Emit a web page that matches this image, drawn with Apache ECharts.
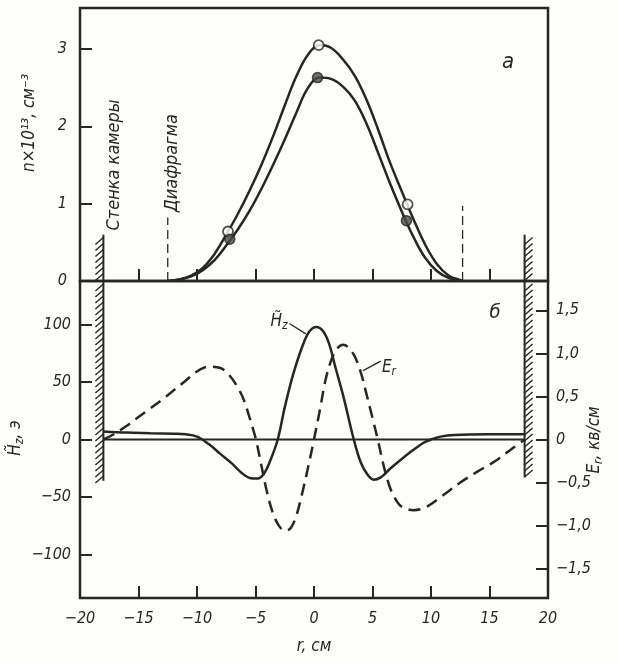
<!DOCTYPE html>
<html>
<head>
<meta charset="utf-8">
<script src="https://cdn.jsdelivr.net/npm/echarts@6/dist/echarts.min.js"></script>
<style>
  html, body { margin:0; padding:0; background:#fdfdf9; }
  #chart { width:618px; height:663px; }
</style>
</head>
<body>
<div id="chart"></div>
<script>
// ---------- data ----------
// panel a: electron density n, 10^13 cm^-3
const rN = [-12.5,-11.5,-10.5,-9.5,-8.5,-7.5,-6.5,-5.5,-4.5,-3.5,-2.5,-1.5,-0.5,0.5,1.5,2.5,3.5,4.5,5.5,6.5,7.5,8.5,9.5,10.5,11.5,12.5,12.7];
const nA = [0,0.02,0.07,0.17,0.35,0.6,0.87,1.17,1.5,1.87,2.27,2.65,2.93,3.05,3.01,2.86,2.65,2.34,1.95,1.53,1.16,0.8,0.47,0.22,0.07,0.01,0];
const nB = [0,0.02,0.06,0.14,0.27,0.46,0.67,0.91,1.19,1.5,1.83,2.18,2.5,2.63,2.61,2.51,2.33,2.03,1.65,1.26,0.9,0.57,0.3,0.13,0.04,0.005,0];
const ptsA = [[-7.35,0.64],[0.4,3.05],[8.0,0.99]];   // open circles
const ptsB = [[-7.2,0.54],[0.3,2.63],[7.9,0.78]];    // filled circles
const diaLeft = [[-12.5,0],[-12.5,0.82]];
const diaRight = [[12.7,0],[12.7,0.97]];

// panel б: H_z (oersted) and E_r (kV/cm)
const rH = [-18,-16,-14,-12,-11,-10,-9,-8,-7,-6.2,-5.5,-4.8,-4.3,-3.8,-3.1,-2.5,-1.8,-1.0,-0.4,0.2,0.8,1.3,1.8,2.5,3.4,4.0,4.6,5.1,5.7,6.5,7.5,8.5,9.4,10,10.8,12,15,18];
const hz = [7,6,5.5,5,4.5,2.5,-4,-12.5,-21,-29,-33.5,-34,-30,-20,0,28,56,81,94,98,94,83,64,38,0,-20,-31,-35,-33,-25.5,-17,-9,-2.6,0,2.5,4,4.5,4.5];
const rE = [-18,-17,-16,-15,-14,-13,-12,-11,-10,-9,-8,-7.2,-6.5,-6,-5.5,-5,-4.5,-4,-3.5,-3,-2.5,-2,-1.5,-1,-0.5,0,0.5,1,1.5,2,2.5,3,3.5,4,4.5,5,5.45,6,6.5,7,7.5,8.5,9.5,11,12.5,14,15.5,17,18];
const er = [0,0.07,0.16,0.26,0.36,0.46,0.57,0.68,0.79,0.845,0.83,0.74,0.6,0.46,0.25,0.02,-0.3,-0.62,-0.86,-1.0,-1.06,-1.03,-0.88,-0.62,-0.32,0,0.34,0.7,0.93,1.06,1.1,1.06,0.96,0.78,0.52,0.25,0,-0.33,-0.56,-0.7,-0.78,-0.82,-0.79,-0.65,-0.5,-0.37,-0.25,-0.1,0];
const zeroLine = [[-18,0],[18,0]];
const hzLeader = [[-2.1,101],[-0.7,92]];
const erLeader = [[4.2,0.8],[5.7,0.91]];

// walls: [r, yFrom, yTo] in each panel
const wallsTop = [[-18,0,0.6],[18,0,0.6]];
const wallsBottom = [[-18,-36,138],[18,-33,138]];

// ticks
const xTicks = [-15,-10,-5,0,5,10,15];
const xLabels = [-20,-15,-10,-5,0,5,10,15,20];
const nLabels = [0,1,2,3];
const hzLabels = [-100,-50,0,50,100];
const erLabels = [-1.5,-1,-0.5,0,0.5,1,1.5];

// ---------- helpers ----------
const INK = '#262626';
const FONT = '"DejaVu Sans Condensed", "DejaVu Sans", sans-serif';
const zip = (a, b) => a.map((v, i) => [v, b[i]]);
const minus = s => String(s).replace('-', '\u2212');
const comma = v => v === 0 ? '0' : minus(v.toFixed(1).replace('.', ','));
const lbl = { color: INK, fontFamily: FONT, fontStyle: 'italic', fontSize: 16 };
const txt = { fill: INK, fontFamily: FONT, fontStyle: 'italic', fontSize: 17 };

function wallItem(side){
  return function(params, api){
    const a = api.coord([api.value(0), api.value(2)]);
    const b = api.coord([api.value(0), api.value(1)]);
    const kids = [{ type:'line', shape:{ x1:a[0], y1:a[1], x2:b[0], y2:b[1] }, style:{ stroke:INK, lineWidth:2 } }];
    const dx = side < 0 ? -8 : 8;
    for(let y = a[1] + 3; y < b[1] - 2; y += 6){
      if(side < 0) kids.push({ type:'line', shape:{ x1:a[0], y1:y, x2:a[0]+dx, y2:y+7 }, style:{ stroke:INK, lineWidth:1.4 } });
      else kids.push({ type:'line', shape:{ x1:a[0], y1:y+7, x2:a[0]+dx, y2:y }, style:{ stroke:INK, lineWidth:1.4 } });
    }
    return { type:'group', children:kids };
  };
}

const chart = echarts.init(document.getElementById('chart'), null, { renderer:'canvas' });

const gridStyle = { show:true, borderColor:INK, borderWidth:2.5, backgroundColor:'transparent', outerBoundsMode:'none', containLabel:false };
const tick = (vals) => ({ show:true, inside:true, length:12, customValues:vals, lineStyle:{ color:INK, width:2 } });
const noLine = { show:false, onZero:false };
const rich = { a:{ ...txt }, s:{ ...txt, fontSize:12, verticalAlign:'bottom', padding:[8,0,0,0] } };

chart.setOption({
  animation:false,
  backgroundColor:'#fdfdf9',
  grid:[
    { left:80, right:70, top:8, height:273, ...gridStyle },
    { left:80, right:70, top:281, height:317, ...gridStyle }
  ],
  xAxis:[
    { gridIndex:0, type:'value', min:-20, max:20, axisLine:noLine, splitLine:{ show:false },
      axisTick:tick(xTicks), axisLabel:{ show:false } },
    { gridIndex:1, type:'value', min:-20, max:20, axisLine:noLine, splitLine:{ show:false },
      axisTick:tick(xTicks),
      axisLabel:{ ...lbl, margin:13, customValues:xLabels, formatter:v => minus(v) } }
  ],
  yAxis:[
    { gridIndex:0, type:'value', min:0, max:3.53, axisLine:noLine, splitLine:{ show:false },
      axisTick:tick([1,2,3]),
      axisLabel:{ ...lbl, margin:13, customValues:nLabels } },
    { gridIndex:1, type:'value', min:-138, max:138, axisLine:noLine, splitLine:{ show:false },
      axisTick:tick(hzLabels),
      axisLabel:{ ...lbl, margin:9, customValues:hzLabels, formatter:v => minus(v) } },
    { gridIndex:1, type:'value', position:'right', min:-1.84, max:1.84, axisLine:noLine, splitLine:{ show:false },
      axisTick:tick(erLabels),
      axisLabel:{ ...lbl, margin:8, customValues:erLabels, formatter:comma } }
  ],
  series:[
    { type:'line', xAxisIndex:0, yAxisIndex:0, data:zip(rN, nA), smooth:0.4, showSymbol:false,
      lineStyle:{ color:INK, width:2.5 } },
    { type:'line', xAxisIndex:0, yAxisIndex:0, data:zip(rN, nB), smooth:0.4, showSymbol:false,
      lineStyle:{ color:INK, width:2.5 } },
    { type:'scatter', xAxisIndex:0, yAxisIndex:0, data:ptsA, symbolSize:10, z:5,
      itemStyle:{ color:'#ffffff', borderColor:INK, borderWidth:1.8 } },
    { type:'scatter', xAxisIndex:0, yAxisIndex:0, data:ptsB, symbolSize:10, z:5,
      itemStyle:{ color:'#4a4a4a', borderColor:INK, borderWidth:1.5 } },
    { type:'line', xAxisIndex:0, yAxisIndex:0, data:diaLeft, showSymbol:false,
      lineStyle:{ color:INK, width:1.3, type:[9,5] } },
    { type:'line', xAxisIndex:0, yAxisIndex:0, data:diaRight, showSymbol:false,
      lineStyle:{ color:INK, width:1.3, type:[9,5] } },
    { type:'custom', xAxisIndex:0, yAxisIndex:0, data:[wallsTop[0]], renderItem:wallItem(-1) },
    { type:'custom', xAxisIndex:0, yAxisIndex:0, data:[wallsTop[1]], renderItem:wallItem(1) },
    { type:'custom', xAxisIndex:1, yAxisIndex:1, data:[wallsBottom[0]], renderItem:wallItem(-1) },
    { type:'custom', xAxisIndex:1, yAxisIndex:1, data:[wallsBottom[1]], renderItem:wallItem(1) },
    { type:'line', xAxisIndex:1, yAxisIndex:1, data:zeroLine, showSymbol:false,
      lineStyle:{ color:INK, width:2 } },
    { type:'line', xAxisIndex:1, yAxisIndex:1, data:zip(rH, hz), smooth:0.35, showSymbol:false,
      lineStyle:{ color:INK, width:2.5 } },
    { type:'line', xAxisIndex:1, yAxisIndex:2, data:zip(rE, er), smooth:0.35, showSymbol:false,
      lineStyle:{ color:INK, width:2.5, type:[12,7] } },
    { type:'line', xAxisIndex:1, yAxisIndex:1, data:hzLeader, showSymbol:false,
      lineStyle:{ color:INK, width:1.3 } },
    { type:'line', xAxisIndex:1, yAxisIndex:2, data:erLeader, showSymbol:false,
      lineStyle:{ color:INK, width:1.3 } }
  ],
  graphic:[
    { type:'text', x:30, y:123, rotation:Math.PI/2, style:{ text:'n×10¹³, см⁻³', ...txt, align:'center', verticalAlign:'middle' } },
    { type:'text', x:16, y:438, rotation:Math.PI/2, style:{ text:'{a|H̃}{s|z}{a|, э}', rich, align:'center', verticalAlign:'middle' } },
    { type:'text', x:595, y:440, rotation:Math.PI/2, style:{ text:'{a|E}{s|r}{a|, кв/см}', rich, align:'center', verticalAlign:'middle' } },
    { type:'text', x:314, y:647, style:{ text:'r, см', ...txt, align:'center', verticalAlign:'middle' } },
    { type:'text', x:508, y:62, style:{ text:'а', ...txt, fontSize:22, align:'center', verticalAlign:'middle' } },
    { type:'text', x:495, y:313, style:{ text:'б', ...txt, fontSize:20, align:'center', verticalAlign:'middle' } },
    { type:'text', x:114, y:165, rotation:Math.PI/2, style:{ text:'Стенка камеры', ...txt, fontSize:18, align:'center', verticalAlign:'middle' } },
    { type:'text', x:172, y:163, rotation:Math.PI/2, style:{ text:'Диафрагма', ...txt, fontSize:18, align:'center', verticalAlign:'middle' } },
    { type:'text', x:279, y:322, style:{ text:'{a|H̃}{s|z}', rich, align:'center', verticalAlign:'middle' } },
    { type:'text', x:389, y:368, style:{ text:'{a|E}{s|r}', rich, align:'center', verticalAlign:'middle' } }
  ]
});
</script>
</body>
</html>
